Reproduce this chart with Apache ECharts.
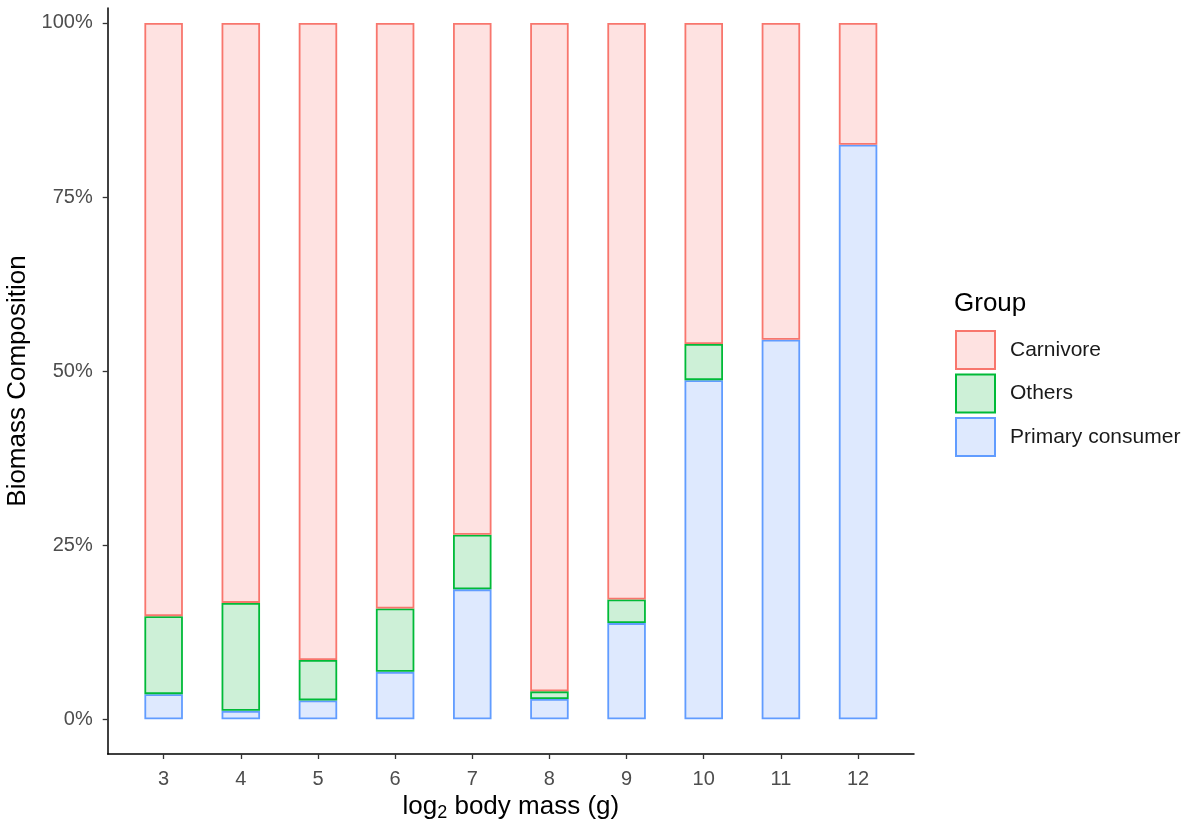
<!DOCTYPE html>
<html>
<head>
<meta charset="utf-8">
<script src="https://cdn.jsdelivr.net/npm/echarts@6/dist/echarts.min.js"></script>
<style>
  html, body { margin: 0; padding: 0; background: #fff; }
  #chart { width: 1187px; height: 826px; }
</style>
</head>
<body>
<div id="chart"></div>
<script>
// log2 body mass classes
const massClasses = [3, 4, 5, 6, 7, 8, 9, 10, 11, 12];
// biomass composition, percent
const primaryConsumer = [3.6, 1.2, 2.7, 6.8, 18.65, 2.9, 13.8, 48.7, 54.5, 82.5];
const others          = [11.2, 15.5, 5.8, 9.1, 7.85, 1.1, 3.4, 5.2, 0, 0];
const carnivore       = [85.2, 83.3, 91.5, 84.1, 73.5, 96.0, 82.8, 46.1, 45.5, 17.5];
const yTicks = [0, 25, 50, 75, 100];

const FONT = 'Liberation Sans, Arial, sans-serif';

// value first so that the stacked dimension is the y value
function toData(vals) {
  return massClasses.map((x, i) => [vals[i] === 0 ? '-' : vals[i], x]);
}

const chart = echarts.init(document.getElementById('chart'));
const barCommon = { type: 'bar', stack: 'total', barWidth: 38.5, encode: { x: 1, y: 0 } };
chart.setOption({
  animation: false,
  backgroundColor: '#ffffff',
  title: {
    text: 'Group',
    left: 954, top: 291, padding: 0,
    textStyle: { fontFamily: FONT, fontSize: 26, fontWeight: 'normal', color: '#000' }
  },
  legend: {
    orient: 'vertical',
    left: 955, top: 330, padding: 0,
    itemWidth: 39, itemHeight: 38, itemGap: 3.5,
    selectedMode: false,
    icon: 'rect',
    data: ['Carnivore', 'Others', 'Primary consumer'],
    textStyle: { fontFamily: FONT, fontSize: 21, color: '#1a1a1a', padding: [0, 0, 0, 10] }
  },
  grid: { left: 107.7, right: 273, top: 8, bottom: 72, outerBoundsMode: 'none', containLabel: false },
  xAxis: {
    type: 'value',
    min: 2.275, max: 12.725,
    name: '{a|log}{s|2}{a| body mass (g)}',
    nameLocation: 'middle',
    nameGap: 37,
    nameTextStyle: {
      rich: {
        a: { fontFamily: FONT, fontSize: 26, color: '#000' },
        s: { fontFamily: FONT, fontSize: 18, color: '#000', padding: [12, 0, 0, 0] }
      }
    },
    axisLine: { onZero: false, lineStyle: { color: '#000', width: 1.5 } },
    axisTick: { length: 5, customValues: massClasses, lineStyle: { color: '#333', width: 1.3 } },
    axisLabel: { customValues: massClasses, margin: 15, fontFamily: FONT, fontSize: 20, color: '#4d4d4d' },
    splitLine: { show: false }
  },
  yAxis: {
    type: 'value',
    min: -5, max: 102.15,
    name: 'Biomass Composition',
    nameLocation: 'middle',
    nameGap: 72,
    nameTextStyle: { fontFamily: FONT, fontSize: 26, color: '#000' },
    axisLine: { show: true, lineStyle: { color: '#000', width: 1.5 } },
    axisTick: { show: true, length: 5, customValues: yTicks, lineStyle: { color: '#333', width: 1.3 } },
    axisLabel: { customValues: yTicks, margin: 15, fontFamily: FONT, fontSize: 20, color: '#4d4d4d',
                 formatter: v => v + '%' },
    splitLine: { show: false }
  },
  series: [
    Object.assign({}, barCommon, {
      name: 'Primary consumer',
      itemStyle: { color: '#DEE9FE', borderColor: '#619CFF', borderWidth: 1.8 },
      data: toData(primaryConsumer)
    }),
    Object.assign({}, barCommon, {
      name: 'Others',
      itemStyle: { color: '#CDF0D7', borderColor: '#00BA38', borderWidth: 1.8 },
      data: toData(others)
    }),
    Object.assign({}, barCommon, {
      name: 'Carnivore',
      itemStyle: { color: '#FEE2E1', borderColor: '#F8766D', borderWidth: 1.8 },
      data: toData(carnivore)
    })
  ]
});
</script>
</body>
</html>
